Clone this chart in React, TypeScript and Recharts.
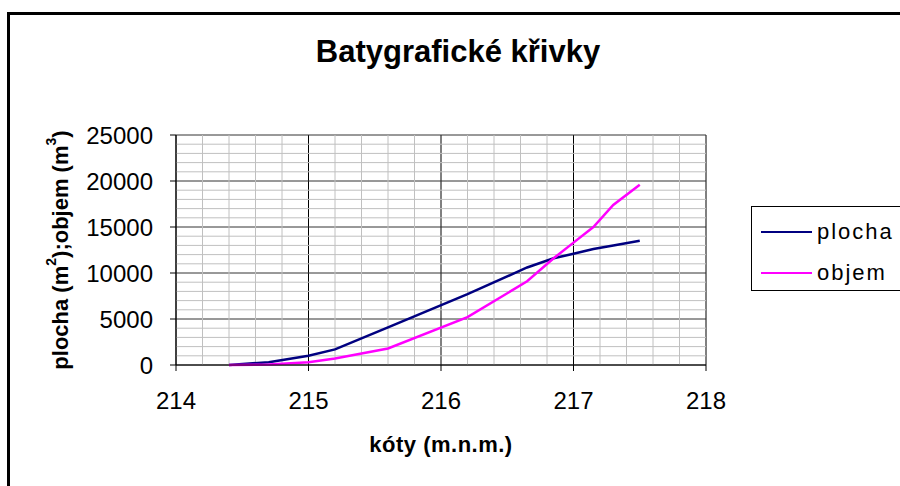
import React from "react"
import {
	LineChart,
	Line,
	XAxis,
	YAxis,
	CartesianGrid,
	ReferenceLine,
	Label,
} from "recharts"

// kóty (m.n.m.) and the two series
const koty = [214.4, 214.7, 215.0, 215.2, 215.6, 216.2, 216.65, 216.85, 217.0, 217.15, 217.3, 217.5]
const plocha = [0, 300, 1000, 1700, 4100, 7700, 10600, 11600, 12100, 12600, 13000, 13500]
const objem = [0, 50, 300, 700, 1800, 5200, 9100, 11600, 13300, 15000, 17400, 19600]

const xTicks = [214, 215, 216, 217, 218]
const yTicks = [0, 5000, 10000, 15000, 20000, 25000]

// minor gridlines (every 0.2 m and every 1000)
const xMinor: number[] = []
for (let i = 0; i < 20; i++) {
	const v = Math.round((214 + i * 0.2) * 10) / 10
	if (!xTicks.includes(v)) xMinor.push(v)
}
const yMinor: number[] = []
for (let v = 1000; v < 25000; v += 1000) {
	if (v % 5000 !== 0) yMinor.push(v)
}

const data = koty.map((k, i) => ({ kota: k, plocha: plocha[i], objem: objem[i] }))

const series = [
	{ key: "plocha", color: "#000080" },
	{ key: "objem", color: "#FF00FF" },
]

const FONT = "'Liberation Sans', Arial, sans-serif"

function YTitle(props: any) {
	const vb = props.viewBox || {}
	const cx = 60
	const cy = vb.y + vb.height / 2
	return (
		<text
			x={cx}
			y={cy}
			transform={`rotate(-90 ${cx} ${cy})`}
			textAnchor="middle"
			dominantBaseline="central"
			fontFamily={FONT}
			fontWeight="bold"
			fontSize={22}
			fill="#000"
		>
			plocha (m<tspan dy={-9} fontSize={14}>2</tspan>
			<tspan dy={9}>);objem (m</tspan>
			<tspan dy={-9} fontSize={14}>3</tspan>
			<tspan dy={9}>)</tspan>
		</text>
	)
}

function LegendBox() {
	return (
		<div
			style={{
				position: "absolute",
				left: 751,
				top: 206,
				width: 170,
				height: 85,
				border: "1px solid #000",
				background: "#fff",
				boxSizing: "border-box",
				fontFamily: FONT,
				fontSize: 22,
				paddingTop: 4,
			}}
		>
			{series.map((it) => (
				<div key={it.key} style={{ display: "flex", alignItems: "center", height: 41 }}>
					<div style={{ width: 51, height: 2, background: it.color, marginLeft: 9, marginRight: 5 }} />
					<span style={{ letterSpacing: 2 }}>{it.key}</span>
				</div>
			))}
		</div>
	)
}

export default function App() {
	return (
		<div
			style={{
				position: "fixed",
				left: 0,
				top: 0,
				width: 900,
				height: 486,
				overflow: "hidden",
				background: "#fff",
			}}
		>
			<div
				style={{
					position: "absolute",
					left: 7,
					top: 12,
					width: 1000,
					height: 600,
					border: "3px solid #000",
				}}
			/>
			<div
				style={{
					position: "absolute",
					left: 0,
					top: 34,
					width: 916,
					textAlign: "center",
					fontFamily: FONT,
					fontWeight: "bold",
					fontSize: 31,
				}}
			>
				Batygrafické křivky
			</div>
			<div style={{ position: "absolute", left: 0, top: 0 }}>
				<LineChart
					width={900}
					height={486}
					data={data}
					margin={{ top: 135, right: 194, bottom: 81, left: 96 }}
				>
					{xMinor.map((v) => (
						<ReferenceLine key={"x" + v} x={v} stroke="#c0c0c0" strokeWidth={1} />
					))}
					{yMinor.map((v) => (
						<ReferenceLine key={"y" + v} y={v} stroke="#c0c0c0" strokeWidth={1} />
					))}
					<CartesianGrid stroke="#000" strokeWidth={1} horizontal={false} />
					<CartesianGrid stroke="#333" strokeWidth={1} vertical={false} />
					<XAxis
						dataKey="kota"
						type="number"
						domain={[214, 218]}
						ticks={xTicks}
						tickSize={6}
						tickMargin={21}
						stroke="#000"
						tick={{ fill: "#000", fontSize: 24, fontFamily: FONT }}
						height={40}
					>
						<Label
							value="kóty (m.n.m.)"
							position="bottom"
							offset={31}
							style={{ fontFamily: FONT, fontWeight: "bold", fontSize: 22, fill: "#000", letterSpacing: 0.5 }}
						/>
					</XAxis>
					<YAxis
						type="number"
						domain={[0, 25000]}
						ticks={yTicks}
						tickSize={6}
						tickMargin={17}
						stroke="#000"
						tick={{ fill: "#000", fontSize: 24, fontFamily: FONT }}
						width={80}
						label={<YTitle />}
					/>
					{series.map((s) => (
						<Line
							key={s.key}
							type="linear"
							dataKey={s.key}
							name={s.key}
							stroke={s.color}
							strokeWidth={2.5}
							dot={false}
							isAnimationActive={false}
						/>
					))}
				</LineChart>
			</div>
			<LegendBox />
		</div>
	)
}
